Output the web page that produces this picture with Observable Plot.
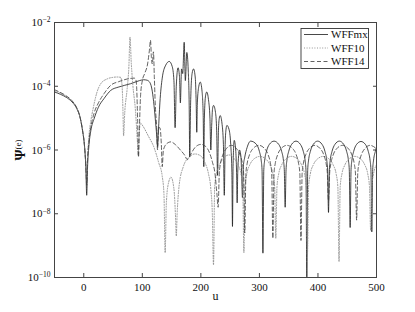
<!DOCTYPE html>
<html>
<head>
<meta charset="utf-8">
<script src="https://cdn.jsdelivr.net/npm/d3@7"></script>
<script src="https://cdn.jsdelivr.net/npm/@observablehq/plot@0.6"></script>
<style>
  html, body { margin: 0; padding: 0; background: #fff; }
  #chart { width: 415px; height: 312px; }
</style>
</head>
<body>
<div id="chart"></div>
<script>
// ---- data (u, Ψ(e)) ----
const seriesNames = ["WFFmx", "WFF10", "WFF14"];
const xTicks = [0, 100, 200, 300, 400, 500];
const yTicks = [1e-10, 1e-8, 1e-6, 1e-4, 1e-2];
const xLabel = "u";

const wffmx = [
[-50,6.6e-5],[-40,5.6e-5],[-30,4.5e-5],[-20,3.2e-5],[-12,2e-5],[-6,1e-5],[-2,4e-6],[1,1.5e-6],[3.5,3e-7],[5,3.8e-8],[6.5,3e-7],[9,1.5e-6],[12,4e-6],[18,1e-5],[25,2.2e-5],[35,4.2e-5],[46,7.4e-5],[60,9.5e-5],[80,1.2e-4],[95,1.5e-4],[102,1.6e-4],[108,1.55e-4],[113,1.3e-4],[117,7e-5],[120,2.5e-5],[122.5,8e-6],[124.5,3e-6],[126,1.3e-6],[127.5,4e-6],[130,3e-5],[134,1.8e-4],[140,4.6e-4],[146,6e-4],[151,4.2e-4],[154,1.5e-4],[156,5e-6],[158,1e-4],[161,3.8e-4],[163.5,2e-4],[165,3e-5],[167,3.5e-4],[169,2.5e-4],[171.5,2.4e-3],[173.5,1.5e-4],[176,1.15e-3],[178.5,3e-4],[180,3e-5],[181,6e-7],[182.5,3e-5],[185,2.5e-4],[187.5,3.5e-4],[190.5,1.8e-4],[192,3e-5],[193,3.6e-6],[194,3e-5],[196.5,1e-4],[199,1.35e-4],[202,7e-5],[204,1.2e-5],[205,3e-7],[206,1e-5],[208,5e-5],[210,6.6e-5],[213,3.8e-5],[215.5,1e-5],[217,1e-6],[218.5,6e-6],[220,2e-5],[221.7,2.5e-5],[225,1.5e-5],[227,4e-6],[228.5,1.6e-7],[230,4e-6],[231.5,1e-5],[233,1.2e-5],[236,7e-6],[238.5,1.5e-6],[240,3.8e-8],[241.5,1.5e-6],[243,4.5e-6],[244.5,5.9e-6],[248,4.5e-6],[251,1.5e-6],[253,2e-7],[254,4e-9],[255,3e-7],[257,2e-6],[259.5,1e-6],[261,2e-7],[262,2.2e-8],[263,2e-7],[266,1e-6],[268.5,6e-7],[270,1e-7],[271,3.2e-8],
[272.5,3e-7],[275,6e-7],[279,1.2e-6],[285,1.9e-6],
[295,1.5e-6],[300,9e-7],[303,4.8e-7],[304.5,2.4e-7],[306,5.8e-10],[307.5,2.4e-7],[309,4.8e-7],[312,9e-7],[317,1.5e-6],[325,1.9e-6],
[333,1.5e-6],[338,9e-7],[341,4.8e-7],[342.5,2.4e-7],[344,1.6e-8],[345.5,2.4e-7],[347,4.8e-7],[350,9e-7],[355,1.5e-6],[362.5,1.9e-6],
[370,1.5e-6],[375,9e-7],[378,4.8e-7],[379.5,2.4e-7],[381,1e-10],[382.5,2.4e-7],[384,4.8e-7],[387,9e-7],[392,1.5e-6],[399.5,1.9e-6],
[407,1.5e-6],[412,9e-7],[415,4.8e-7],[416.5,2.4e-7],[418,1.1e-8],[419.5,2.4e-7],[421,4.8e-7],[424,9e-7],[429,1.5e-6],[436.5,1.9e-6],
[444,1.5e-6],[449,9e-7],[452,4.8e-7],[453.5,2.4e-7],[455,3.7e-9],[456.5,2.4e-7],[458,4.8e-7],[461,9e-7],[466,1.5e-6],[473.5,1.85e-6],
[481,1.5e-6],[486,9e-7],[489,4.8e-7],[490.5,2.4e-7],[492,2.7e-9],[493.5,2.4e-7],[495,4.8e-7],[498,9e-7],[500,1.2e-6]
];

const wff10 = [
[-50,7.2e-5],[-40,6e-5],[-30,4.8e-5],[-20,3.4e-5],[-12,2.1e-5],[-6,1e-5],[-2,4e-6],[1,1.5e-6],[3.5,4e-7],[5,1.5e-7],[6.5,6e-7],[9,3e-6],[12,8e-6],[16,2e-5],[22,6e-5],[29,1.2e-4],[40,1.7e-4],[50,1.9e-4],[57,1.95e-4],[63,1.9e-4],[65.5,1e-4],[67,1.5e-5],[68,2.8e-6],[70,1.5e-5],[74,8e-5],[77,4e-4],[79,3.5e-3],[81,6e-4],[84,1e-4],[88,2e-5],[91.5,2e-6],[93,7e-7],[94.5,3e-6],[97,7e-6],[100,6e-6],[110,2.8e-6],[120,1.2e-6],[128,4e-7],[134,1.5e-7],[137,4e-8],[139,6e-10],[141,2e-8],[144,8e-8],[149,1.4e-7],[154,6e-8],[156.5,1e-8],[158,2e-9],[159.5,1e-8],[163,8e-8],[170,3e-7],[180,6e-7],[190,7.5e-7],[200,6.5e-7],[207,4e-7],[213,1.8e-7],[217,6e-8],[219.6,1e-8],[221.6,2.5e-10],
[223.6,7e-8],[226.6,1.8e-7],[231.6,3.4e-7],[238.6,5.5e-7],[248,7e-7],
[256.5,5.5e-7],[263.5,3.4e-7],[268.5,1.8e-7],[271.5,7e-8],[273.5,6e-10],[275.5,7e-8],[278.5,1.8e-7],[283.5,3.4e-7],[290.5,5.2e-7],[301,6.3e-7],
[311,5.2e-7],[318,3.4e-7],[323,1.8e-7],[326,7e-8],[328,1.7e-9],[330,7e-8],[333,1.8e-7],[338,3.4e-7],[345,5.2e-7],[355,6.3e-7],
[365,5.2e-7],[372,3.4e-7],[377,1.8e-7],[380,7e-8],[382,5e-10],[384,7e-8],[387,1.8e-7],[392,3.4e-7],[399,5.2e-7],[409,6.3e-7],
[419,5.2e-7],[426,3.4e-7],[431,1.8e-7],[434,7e-8],[436,3.2e-10],[438,7e-8],[441,1.8e-7],[446,3.4e-7],[453,5.2e-7],[463,6.3e-7],
[473,5.2e-7],[480,3.4e-7],[485,1.8e-7],[488,7e-8],[490,3e-9],[492,7e-8],[495,1.8e-7],[500,3.4e-7]
];

const wff14 = [
[-50,7.8e-5],[-40,6.4e-5],[-30,5e-5],[-20,3.5e-5],[-12,2.1e-5],[-6,1e-5],[-2,4e-6],[1,1.5e-6],[3.5,3e-7],[5,8e-8],[6.5,5e-7],[9,2e-6],[12,5e-6],[18,1.5e-5],[25,3e-5],[35,6e-5],[46,1.07e-4],[60,1.4e-4],[75,1.7e-4],[86,1.8e-4],[89,1.6e-4],[90.5,8e-5],[92,8e-6],[93.5,6e-7],[95,5e-6],[97,5e-5],[100,1.5e-4],[104,2.5e-4],[109,5e-4],[112,1.3e-3],[114,2.75e-3],[115.5,8e-4],[117,5e-4],[119,1.2e-3],[120.5,2e-4],[122,3e-5],[124.5,5e-6],[126,1e-6],[127.5,5e-6],[130,5e-6],[132.5,1.5e-6],[134,3e-7],[136,1e-6],[142,1.6e-6],[148.5,1.8e-6],[156,1.5e-6],[165,1e-6],[172,7e-7],[177,5e-7],[182,7e-7],[190,1.2e-6],[200,1.5e-6],[208,1.3e-6],[215,8e-7],[220,4e-7],[224,1.9e-7],[227.5,4e-8],[229.5,1.6e-8],
[231.5,1.9e-7],[233.5,3.7e-7],[237.5,7e-7],[243.5,1.1e-6],[252,1.4e-6],
[261,1.1e-6],[267,7e-7],[271,3.7e-7],[273,1.9e-7],[275,2.5e-9],[277,1.9e-7],[279,3.7e-7],[283,7e-7],[289,1.1e-6],[299,1.4e-6],
[309,1.1e-6],[315,7e-7],[319,3.7e-7],[321,1.9e-7],[323,1.7e-9],[325,1.9e-7],[327,3.7e-7],[331,7e-7],[337,1.1e-6],[347,1.4e-6],
[357,1.1e-6],[363,7e-7],[367,3.7e-7],[369,1.9e-7],[371,1.45e-9],[373,1.9e-7],[375,3.7e-7],[379,7e-7],[385,1.1e-6],[394.5,1.4e-6],
[404,1.1e-6],[410,7e-7],[414,3.7e-7],[416,1.9e-7],[418,2.5e-8],[420,1.9e-7],[422,3.7e-7],[426,7e-7],[432,1.1e-6],[442,1.4e-6],
[452,1.1e-6],[458,7e-7],[462,3.7e-7],[464,1.9e-7],[466,6.3e-9],[468,1.9e-7],[470,3.7e-7],[474,7e-7],[480,1.1e-6],[489,1.4e-6],[500,1.1e-6]
];

// ---- styles ----
const styles = [
  {stroke: "#1a1a1a", strokeWidth: 0.8, dash: null},
  {stroke: "#8a8a8a", strokeWidth: 0.9, dash: "1,1.6"},
  {stroke: "#3a3a3a", strokeWidth: 0.8, dash: "4,2.5"}
];
const allSeries = [wffmx, wff10, wff14];
const rows = allSeries.map(s => s.map(([u, psi]) => ({u, psi})));

const plot = Plot.plot({
  width: 415,
  height: 312,
  marginLeft: 54,
  marginRight: 39,
  marginTop: 22,
  marginBottom: 35,
  style: {fontFamily: "'Liberation Serif', 'Times New Roman', serif", fontSize: "11px", background: "#fff", color: "#111"},
  x: {domain: [-50, 500]},
  y: {type: "log", domain: [1e-10, 1e-2]},
  marks: [
    ...rows.map((r, i) => Plot.line(r, {
      x: "u", y: "psi", curve: "monotone-x", clip: true,
      stroke: styles[i].stroke, strokeWidth: styles[i].strokeWidth,
      strokeDasharray: styles[i].dash
    })),
    Plot.frame({stroke: "#444", strokeWidth: 1}),
    Plot.axisX({anchor: "bottom", ticks: xTicks, tickSize: -4, tickPadding: 10, label: null, stroke: "#444"}),
    Plot.axisX({anchor: "top", ticks: xTicks, tickSize: -4, tickFormat: () => "", label: null, stroke: "#444"}),
    Plot.axisY({anchor: "left", ticks: yTicks, tickSize: -4, tickPadding: 8, label: null, stroke: "#444",
      tickFormat: d => String(Math.round(Math.log10(d)))}),
    Plot.axisY({anchor: "right", ticks: yTicks, tickSize: -4, tickFormat: () => "", label: null, stroke: "#444"}),
    Plot.text([xLabel], {frameAnchor: "bottom", dy: 22, fontSize: 12, text: d => d})
  ]
});

document.getElementById("chart").appendChild(plot);

// superscript exponents on y tick labels
const NS = "http://www.w3.org/2000/svg";
plot.querySelectorAll('[aria-label="y-axis tick label"] text').forEach(t => {
  const e = t.textContent;
  if (!e) return;
  t.textContent = "10";
  const ts = document.createElementNS(NS, "tspan");
  ts.setAttribute("dy", "-0.5em");
  ts.setAttribute("font-size", "7.5px");
  ts.textContent = e.replace("-", "\u2212");
  t.appendChild(ts);
});

const svg = d3.select(plot);

// y-axis label Ψ^(e)
const yl = svg.append("text")
  .attr("transform", "translate(25,150) rotate(-90)")
  .attr("text-anchor", "middle")
  .attr("font-size", 14)
  .attr("font-weight", "bold")
  .attr("fill", "#111");
yl.append("tspan").text("\u03A8");
yl.append("tspan").attr("dy", "-0.45em").attr("font-size", 9).attr("font-weight", "normal").text("(e)");

// legend box
const lg = svg.append("g").attr("text-anchor", "start");
lg.append("rect").attr("x", 301).attr("y", 28.5).attr("width", 67.5).attr("height", 40)
  .attr("fill", "#fff").attr("stroke", "#333").attr("stroke-width", 0.9);
seriesNames.forEach((name, i) => {
  const y = 34.5 + i * 13.5;
  lg.append("line").attr("x1", 304).attr("x2", 328).attr("y1", y).attr("y2", y)
    .attr("stroke", styles[i].stroke).attr("stroke-width", styles[i].strokeWidth)
    .attr("stroke-dasharray", styles[i].dash);
  lg.append("text").attr("x", 331).attr("y", y).attr("dy", "0.35em")
    .attr("text-anchor", "start")
    .attr("font-size", 11).attr("fill", "#111").text(name);
});
</script>
</body>
</html>
